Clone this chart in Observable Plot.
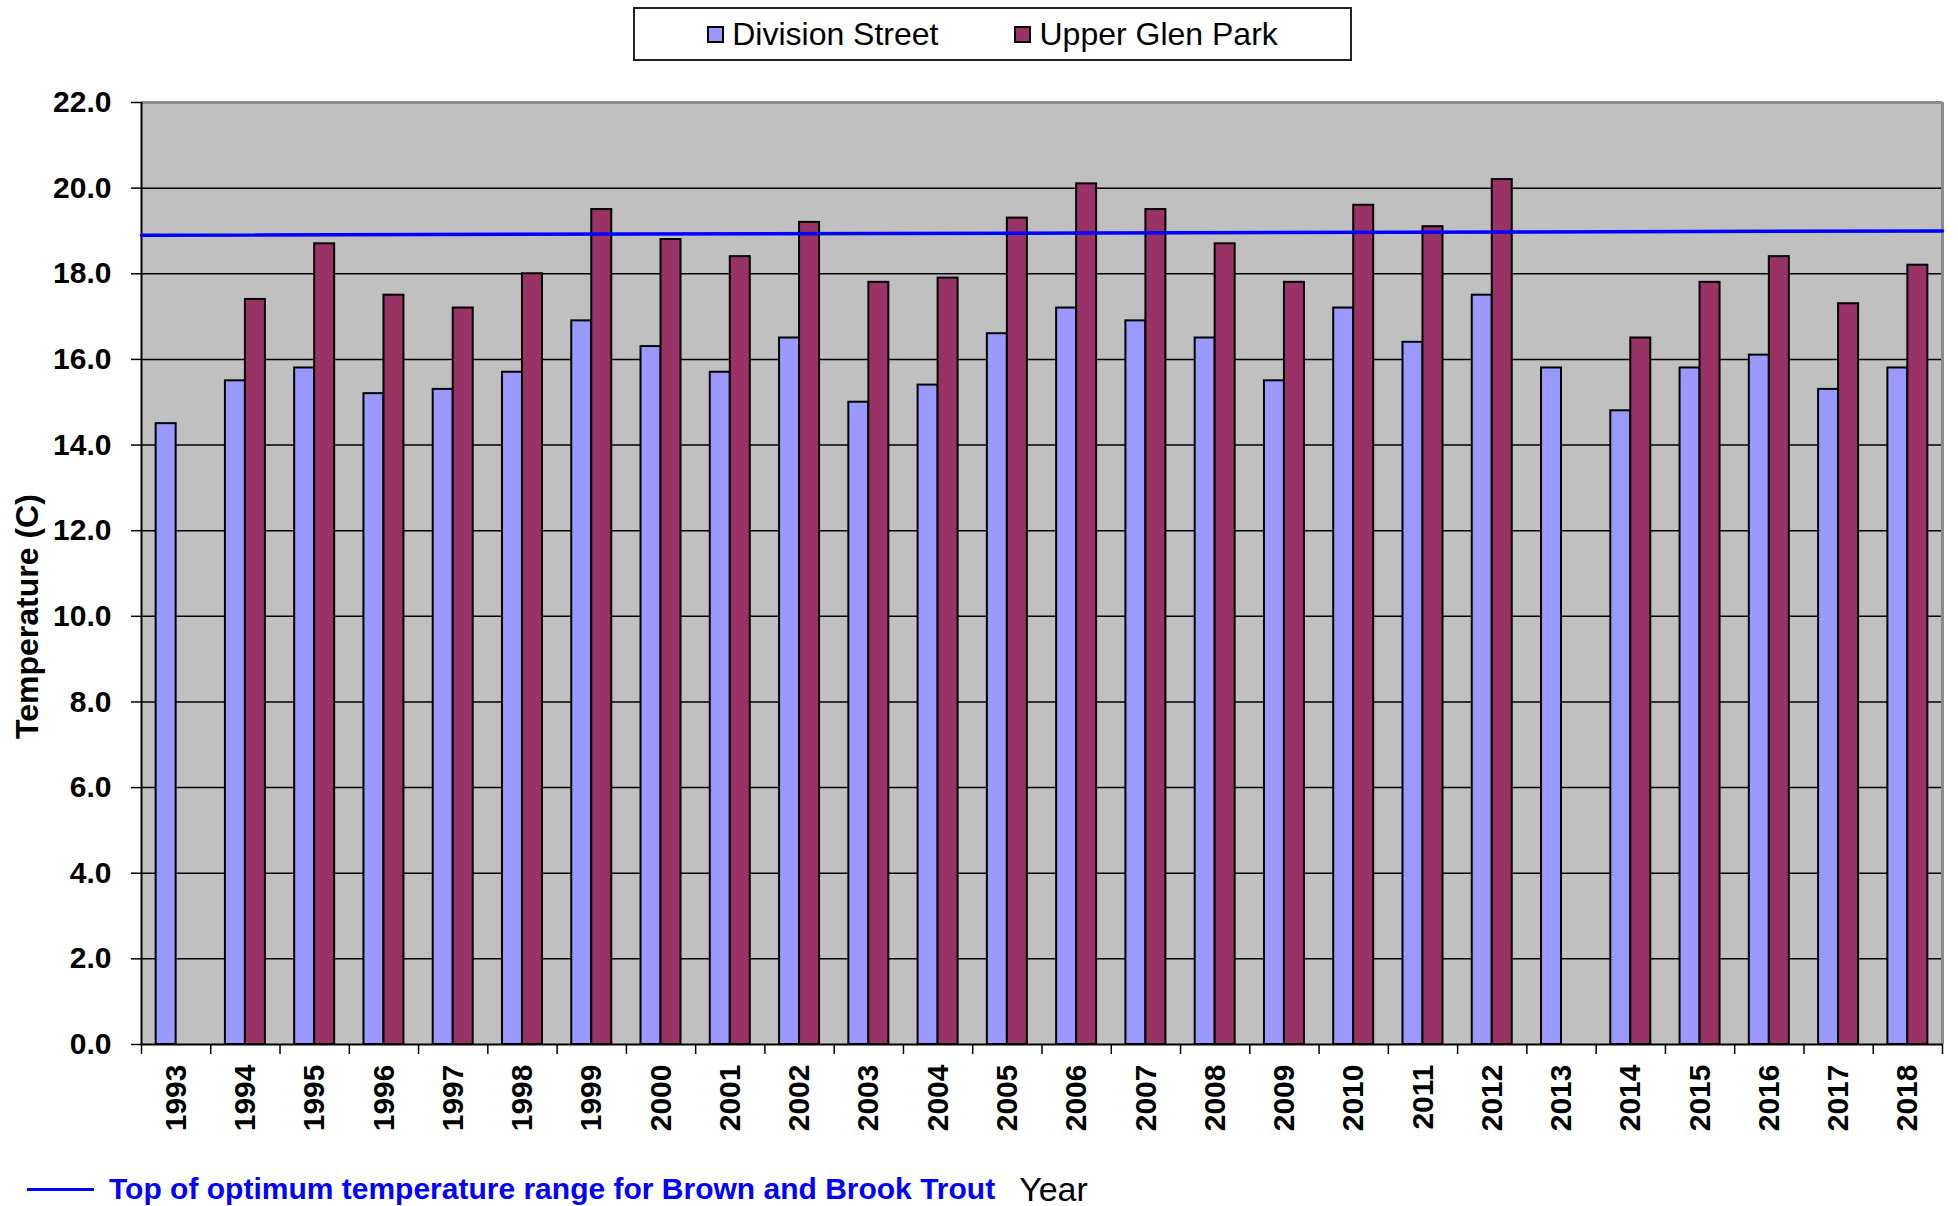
<!DOCTYPE html>
<html>
<head>
<meta charset="utf-8">
<script src="https://cdn.jsdelivr.net/npm/d3@7"></script>
<script src="https://cdn.jsdelivr.net/npm/@observablehq/plot@0.6"></script>
<style>
  html, body { margin: 0; padding: 0; background: #fff; overflow: hidden; width: 1958px; height: 1206px;
    font-family: "Liberation Sans", Arial, sans-serif; }
  #legendRow { height: 61px; position: relative; }
  #legend { position: absolute; left: 633px; top: 7px; width: 719px; height: 54px; box-sizing: border-box;
    border: 2px solid #222; display: flex; align-items: center; justify-content: center; gap: 76px; }
  .item { display: flex; align-items: center; font-size: 32px; color: #000; }
  .sw { width: 13px; height: 13px; border: 2px solid #000; margin-right: 8px; }
  #chart { position: relative; width: 1958px; height: 1099px; }
  #chart svg { position: absolute; left: 0; top: 0; }
  #caption { height: 46px; display: flex; align-items: center; padding-top: 12px; box-sizing: border-box; }
  .capLine { display: inline-block; width: 67px; height: 3px; background: #0000ff; margin-left: 27px; margin-right: 15px; }
  .capText { font-size: 30px; font-weight: bold; color: #0000ff; }
  .capYear { font-size: 34px; color: #000; margin-left: 24px; }
</style>
</head>
<body>
<div id="legendRow"><div id="legend"></div></div>
<div id="chart"></div>
<div id="caption"></div>
<script>
// ---- data ----
const years = [1993, 1994, 1995, 1996, 1997, 1998, 1999, 2000, 2001, 2002, 2003, 2004, 2005,
               2006, 2007, 2008, 2009, 2010, 2011, 2012, 2013, 2014, 2015, 2016, 2017, 2018];
const divisionStreet = [14.5, 15.5, 15.8, 15.2, 15.3, 15.7, 16.9, 16.3, 15.7, 16.5, 15.0, 15.4, 16.6,
                        17.2, 16.9, 16.5, 15.5, 17.2, 16.4, 17.5, 15.8, 14.8, 15.8, 16.1, 15.3, 15.8];
const upperGlenPark = [null, 17.4, 18.7, 17.5, 17.2, 18.0, 19.5, 18.8, 18.4, 19.2, 17.8, 17.9, 19.3,
                       20.1, 19.5, 18.7, 17.8, 19.6, 19.1, 20.2, null, 16.5, 17.8, 18.4, 17.3, 18.2];
const seriesNames = ["Division Street", "Upper Glen Park"];
const seriesColors = ["#9999ff", "#993366"];
const yTicks = [0, 2, 4, 6, 8, 10, 12, 14, 16, 18, 20, 22];
const troutLine = [18.9, 19.0]; // start and end of the optimum-temperature line
const troutLabel = "Top of optimum temperature range for Brown and Brook Trout";
const xTitle = "Year";
const yTitle = "Temperature (C)";

const rows = years.flatMap((yr, i) => [
  {year: yr, series: seriesNames[0], value: divisionStreet[i]},
  {year: yr, series: seriesNames[1], value: upperGlenPark[i]}
]).filter(d => d.value != null);

// ---- legend ----
const legendEl = document.getElementById("legend");
seriesNames.forEach((name, i) => {
  const item = document.createElement("div");
  item.className = "item";
  const sw = document.createElement("span");
  sw.className = "sw";
  sw.style.background = seriesColors[i];
  item.appendChild(sw);
  item.appendChild(document.createTextNode(name));
  legendEl.appendChild(item);
});

// ---- caption ----
const capEl = document.getElementById("caption");
capEl.innerHTML = `<span class="capLine"></span><span class="capText"></span><span class="capYear"></span>`;
capEl.querySelector(".capText").textContent = troutLabel;
capEl.querySelector(".capYear").textContent = xTitle;

// ---- chart ----
const W = 1958, H = 1099;
const margins = {marginLeft: 141, marginRight: 16, marginTop: 41, marginBottom: 116};
const fontStyle = {fontFamily: "'Liberation Sans', Arial, sans-serif", fontSize: "30px", fontWeight: "bold",
                   color: "#000", background: "transparent", overflow: "visible"};
const yDomain = [yTicks[0], yTicks[yTicks.length - 1]];

const basePlot = Plot.plot({
  width: W, height: H, ...margins, style: fontStyle,
  x: {domain: [0, years.length], axis: null},
  y: {domain: yDomain, axis: null},
  marks: [
    Plot.frame({fill: "#c0c0c0", stroke: "none"}),
    Plot.gridY(yTicks.filter(t => t > yDomain[0] && t < yDomain[1]), {stroke: "#000", strokeOpacity: 1, strokeWidth: 1.5}),
    Plot.ruleY([yDomain[1]], {stroke: "#8c8c8c", strokeWidth: 3}),
    Plot.ruleX([years.length], {stroke: "#8c8c8c", strokeWidth: 3}),
    Plot.axisY(yTicks, {tickSize: 10, tickPadding: 20, tickFormat: d3.format(".1f"), label: null,
                        stroke: "#000", strokeWidth: 1.5, fill: "#000"}),
    Plot.axisX(d3.range(years.length + 1), {tickSize: 10, tickFormat: () => "", label: null, stroke: "#000", strokeWidth: 1.5}),
    Plot.ruleX([0], {stroke: "#000", strokeWidth: 2}),
    Plot.ruleY([0], {stroke: "#000", strokeWidth: 2}),
    Plot.text([yTitle], {frameAnchor: "left", textAnchor: "middle", rotate: -90, dx: -114, dy: 43, text: d => d,
                         fontSize: 32, fontWeight: "bold", fill: "#000"})
  ]
});

const barsPlot = Plot.plot({
  width: W, height: H, ...margins, style: fontStyle,
  fx: {domain: years, padding: 0, round: false, label: null, axis: "bottom", tickRotate: -90,
       tickSize: 0, tickPadding: 20, tickFormat: d => `${d}`},
  x: {domain: seriesNames, paddingInner: 0, paddingOuter: 0.732, round: false, axis: null},
  y: {domain: yDomain, axis: null},
  color: {domain: seriesNames, range: seriesColors},
  marks: [
    Plot.barY(rows, {fx: "year", x: "series", y: "value", fill: "series", stroke: "#000", strokeWidth: 2})
  ]
});

const linePlot = Plot.plot({
  width: W, height: H, ...margins, style: fontStyle,
  x: {domain: [0, troutLine.length - 1], axis: null},
  y: {domain: yDomain, axis: null},
  marks: [
    Plot.line(troutLine, {x: (d, i) => i, y: d => d, stroke: "#0000ff", strokeWidth: 3.5})
  ]
});

const chartEl = document.getElementById("chart");
chartEl.appendChild(basePlot);
chartEl.appendChild(barsPlot);
chartEl.appendChild(linePlot);
</script>
</body>
</html>
